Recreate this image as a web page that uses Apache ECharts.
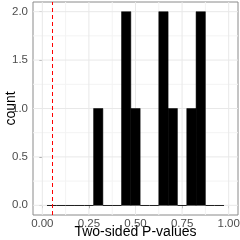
<!DOCTYPE html>
<html>
<head>
<meta charset="utf-8">
<script src="https://cdn.jsdelivr.net/npm/echarts@6/dist/echarts.min.js"></script>
<style>
html,body{margin:0;padding:0;background:#fff;}
#chart{width:240px;height:240px;}
</style>
</head>
<body>
<div id="chart"></div>
<script>
// Histogram bins (bin width 0.05) and counts
var binLo  = [0.025,0.075,0.125,0.175,0.225,0.275,0.325,0.375,0.425,0.475,0.525,0.575,0.625,0.675,0.725,0.775,0.825,0.875,0.925];
var binHi  = [0.075,0.125,0.175,0.225,0.275,0.325,0.375,0.425,0.475,0.525,0.575,0.625,0.675,0.725,0.775,0.825,0.875,0.925,0.975];
var counts = [0,0,0,0,0,1,0,0,2,1,0,0,2,1,0,1,2,0,0];
var pThreshold = 0.05;
var xTicks = [0, 0.25, 0.5, 0.75, 1];
var xTickLabels = ['0.00','0.25','0.50','0.75','1.00'];
var xMinor = [0.125, 0.375, 0.625, 0.875];
var yTicks = [0, 0.5, 1, 1.5, 2];
var yTickLabels = ['0.0','0.5','1.0','1.5','2.0'];
var yMinor = [0.25, 0.75, 1.25, 1.75];
var xTitle = 'Two-sided P-values';
var yTitle = 'count';

var xMin = -0.05, xMax = 1.05, yMin = -0.1, yMax = 2.1;
var font = 'Liberation Sans, Arial, sans-serif';

var histData = binLo.map(function(lo, i){ return [lo, binHi[i], counts[i]]; });

var chart = echarts.init(document.getElementById('chart'), null, {renderer:'canvas'});
chart.setOption({
  animation: false,
  backgroundColor: '#fff',
  grid: {left: 33, top: 2, right: 2, bottom: 25, containLabel: false, outerBoundsMode: 'none',
    show: true, borderColor: '#8a8a8a', borderWidth: 1, backgroundColor: 'transparent'},
  graphic: [
    {type: 'text', x: 135.5, y: 225, silent: true,
      style: {text: xTitle, fill: '#000', fontSize: 14, fontFamily: font, align: 'center', verticalAlign: 'top'}},
    {type: 'text', x: 4, y: 108.5, rotation: Math.PI / 2, silent: true,
      style: {text: yTitle, fill: '#000', fontSize: 14, fontFamily: font, align: 'center', verticalAlign: 'top'}}
  ],
  xAxis: {
    type: 'value', min: xMin, max: xMax,
    axisLine: {show: false},
    axisTick: {show: true, length: 3, lineStyle: {color: '#8a8a8a'}, customValues: xTicks},
    axisLabel: {customValues: xTicks, formatter: function(v){ var i = xTicks.indexOf(v); return i>=0 ? xTickLabels[i] : ''; },
      color: '#4d4d4d', fontSize: 11.5, fontFamily: font, margin: 3},
    splitLine: {show: false}
  },
  yAxis: {
    type: 'value', min: yMin, max: yMax,
    axisLine: {show: false},
    axisTick: {show: true, length: 3, lineStyle: {color: '#8a8a8a'}, customValues: yTicks},
    axisLabel: {customValues: yTicks, formatter: function(v){ var i = yTicks.indexOf(v); return i>=0 ? yTickLabels[i] : ''; },
      color: '#4d4d4d', fontSize: 11.5, fontFamily: font, margin: 5},
    splitLine: {show: false}
  },
  series: [
    {
      // gridlines
      type: 'custom', silent: true, z: 1,
      data: [0],
      renderItem: function(params, api){
        var children = [];
        function vline(x, c, w){
          var p1 = api.coord([x, yMin]), p2 = api.coord([x, yMax]);
          children.push({type:'line', shape:{x1:p1[0],y1:p1[1],x2:p2[0],y2:p2[1]}, style:{stroke:c, lineWidth:w}});
        }
        function hline(y, c, w){
          var p1 = api.coord([xMin, y]), p2 = api.coord([xMax, y]);
          children.push({type:'line', shape:{x1:p1[0],y1:p1[1],x2:p2[0],y2:p2[1]}, style:{stroke:c, lineWidth:w}});
        }
        xMinor.forEach(function(v){ vline(v, '#f3f3f3', 1); });
        yMinor.forEach(function(v){ hline(v, '#f3f3f3', 1); });
        xTicks.forEach(function(v){ vline(v, '#e8e8e8', 1); });
        yTicks.forEach(function(v){ hline(v, '#e8e8e8', 1); });
        return {type:'group', children: children};
      }
    },
    {
      type: 'custom', z: 3,
      data: histData,
      encode: {x: [0,1], y: 2},
      renderItem: function(params, api){
        var lo = api.value(0), hi = api.value(1), c = api.value(2);
        var p1 = api.coord([lo, c]), p2 = api.coord([hi, 0]);
        if (c === 0) {
          var yy = Math.round(p2[1]) + 0.5;
          return {type:'line', shape:{x1:p1[0], y1:yy, x2:p2[0], y2:yy}, style:{stroke:'#222', lineWidth:1}};
        }
        return {type:'rect', shape:{x:p1[0], y:p1[1], width:p2[0]-p1[0], height:p2[1]-p1[1]},
          style:{fill:'#000', stroke:'#000', lineWidth:0.5}};
      }
    },
    {
      // dashed threshold line
      type: 'custom', silent: true, z: 4,
      data: [[pThreshold]],
      encode: {x: 0},
      renderItem: function(params, api){
        var x = api.value(0);
        var p1 = api.coord([x, yMin]), p2 = api.coord([x, yMax]);
        var xx = Math.round(p1[0]) + 0.5;
        return {type:'line', shape:{x1:xx, y1:p1[1], x2:xx, y2:p2[1]},
          style:{stroke:'#ff0000', lineWidth:1, lineDash:[4,3]}};
      }
    }
  ]
});
</script>
</body>
</html>
